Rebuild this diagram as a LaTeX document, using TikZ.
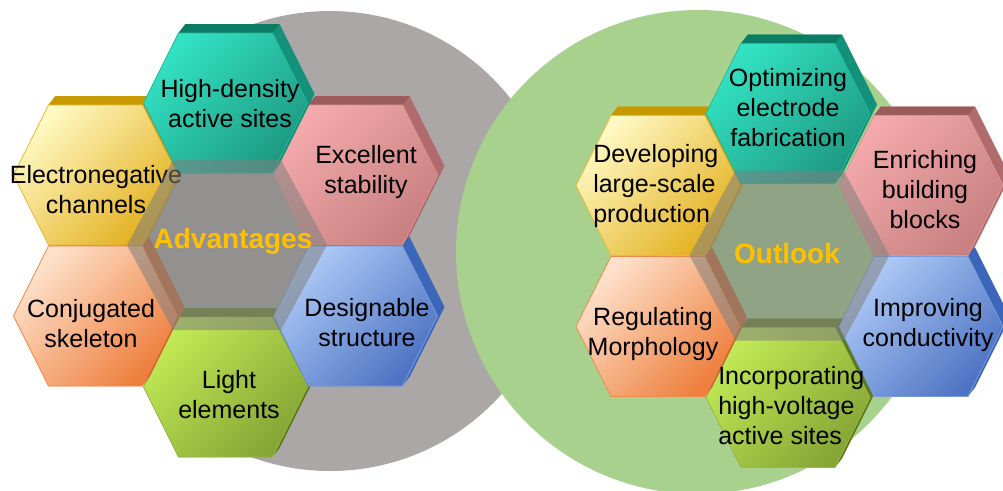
\documentclass[tikz,border=0pt]{standalone}
\usepackage{fontspec}
\setmainfont{Liberation Sans}
\definecolor{cgray}{HTML}{ABA7A6}
\definecolor{cgreen}{HTML}{A9D18E}
\definecolor{ovgray}{HTML}{7F7F7F}
\definecolor{headgold}{HTML}{FFC000}
% teal
\definecolor{tlL}{HTML}{33E2C3}\definecolor{tlD}{HTML}{1E9A83}\definecolor{tlS}{HTML}{14917A}\definecolor{tlT}{HTML}{0B7C63}\definecolor{tlB}{HTML}{22B89C}
% yellow
\definecolor{ywL}{HTML}{FFF9C4}\definecolor{ywD}{HTML}{E3B01E}\definecolor{ywS}{HTML}{C99A05}\definecolor{ywT}{HTML}{C79A00}\definecolor{ywB}{HTML}{E9B93A}
% pink
\definecolor{pkL}{HTML}{F4AAAA}\definecolor{pkD}{HTML}{C88080}\definecolor{pkS}{HTML}{B06C6C}\definecolor{pkT}{HTML}{9B5B5B}\definecolor{pkB}{HTML}{D99494}
% orange
\definecolor{orL}{HTML}{FEE2CC}\definecolor{orD}{HTML}{EE7E3C}\definecolor{orS}{HTML}{CC6A30}\definecolor{orT}{HTML}{D2742F}\definecolor{orB}{HTML}{F08A4C}
% blue
\definecolor{blL}{HTML}{AFCBF7}\definecolor{blD}{HTML}{4E73C3}\definecolor{blS}{HTML}{3B66BA}\definecolor{blT}{HTML}{2F5DAE}\definecolor{blB}{HTML}{7B9AD8}
% green
\definecolor{gnL}{HTML}{C2EA55}\definecolor{gnD}{HTML}{85A535}\definecolor{gnS}{HTML}{5B7A1A}\definecolor{gnT}{HTML}{6A8226}\definecolor{gnB}{HTML}{9AB944}

\tikzset{
  lbl/.style={font=\fontsize{18.75}{22.5}\selectfont, align=center, text=black, inner sep=0pt},
  lblleft/.style={lbl, align=left, anchor=west},
  head/.style={font=\fontsize{21}{25}\selectfont\bfseries, text=headgold, inner sep=0pt},
  overlayhex/.style={fill=ovgray, fill opacity=0.55},
}

% #1 cx, #2 cy, #3 colour prefix
\newcommand{\hexcell}[3]{%
  \fill[#3S] ({#1-82},{#2}) -- ({#1-47},{#2-70}) -- ({#1-40},{#2-79}) -- ({#1+54},{#2-79})
     -- ({#1+89},{#2-9}) -- ({#1+54},{#2+61}) -- ({#1+47},{#2+70}) -- ({#1-47},{#2+70}) -- cycle;
  \fill[#3T] ({#1-47},{#2-70}) -- ({#1-40},{#2-79}) -- ({#1+54},{#2-79}) -- ({#1+47},{#2-70}) -- cycle;
  \path[draw=#3B, line width=0.6pt, top color=#3L, bottom color=#3D, shading angle=45]
     ({#1-82},{#2}) -- ({#1-47},{#2-70}) -- ({#1+47},{#2-70}) -- ({#1+82},{#2})
     -- ({#1+47},{#2+70}) -- ({#1-47},{#2+70}) -- cycle;
}
% #1 X, #2 Y, #3 column offset : the six coloured cells around a cluster centre
\newcommand{\hexring}[3]{%
  \hexcell{#1}{#2+142}{gn}
  \hexcell{#1-130}{#2+71}{or}
  \hexcell{#1+#3}{#2+71}{bl}
  \hexcell{#1-130}{#2-70}{yw}
  \hexcell{#1+#3}{#2-70}{pk}
  \hexcell{#1}{#2-142}{tl}
}
\newcommand{\centrehex}[2]{%
  \fill[overlayhex] ({#1-100},{#2}) -- ({#1-54},{#2-85}) -- ({#1+54},{#2-85}) -- ({#1+100},{#2})
     -- ({#1+54},{#2+85}) -- ({#1-54},{#2+85}) -- cycle;
}

\begin{document}
\begin{tikzpicture}[x=0.75pt, y=-0.75pt]
\useasboundingbox (0,0) rectangle (1003,490);
\clip (0,0) rectangle (1003,490);

% background discs
\fill[cgray] (330,241) circle (230);
\fill[cgreen] (698,252) circle (242);

% left cluster
\hexring{225.5}{245}{130}
\node[lbl] (hd)  at (230,104) {High-density\\active sites};
\node[lbl] (en)  at (96,190)  {Electronegative\\channels};
\node[lbl] (es)  at (366,172.5) {Excellent\\stability};
\node[lbl] (cs)  at (91,324)  {Conjugated\\skeleton};
\node[lbl] (ds)  at (367,323) {Designable\\structure};
\node[lbl] (le)  at (229,394.5) {Light\\elements};
\centrehex{227}{245}
\node[head] (adv) at (233,241) {Advantages};

% right cluster
\hexring{788}{255.5}{133}
\node[lbl] (oe)  at (788,108) {Optimizing\\electrode\\fabrication};
\node[lblleft] (dl) at (593,186) {Developing\\large-scale\\production};
\node[lbl] (eb)  at (925,190) {Enriching\\building\\blocks};
\node[lbl] (rm)  at (653,334) {Regulating\\Morphology};
\node[lbl] (ic)  at (928,325) {Improving\\conductivity};
\node[lblleft] (ih) at (718,406) {Incorporating\\high-voltage\\active sites};
\centrehex{789.5}{255.5}
\node[head] (out) at (787,253) {Outlook};
\end{tikzpicture}
\end{document}
